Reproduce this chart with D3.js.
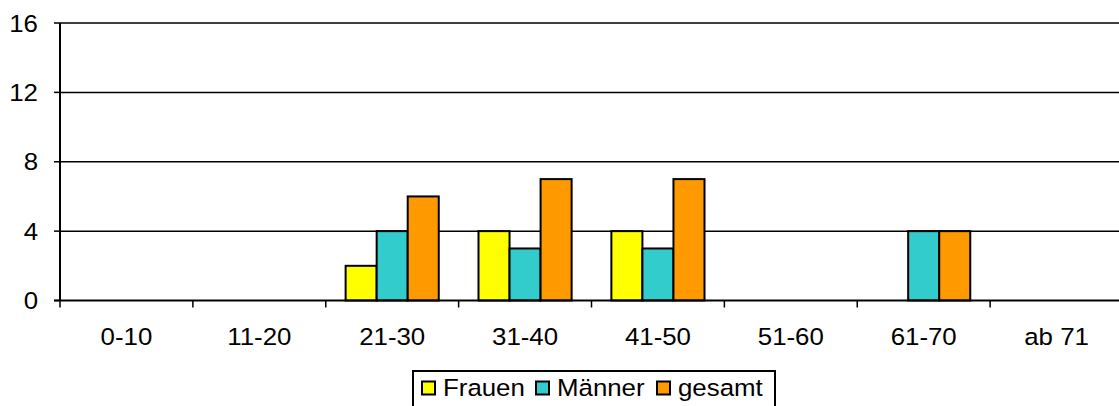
<!DOCTYPE html>
<html>
<head>
<meta charset="utf-8">
<script src="https://cdn.jsdelivr.net/npm/d3@7"></script>
<style>
  html, body { margin: 0; padding: 0; background: #fff; }
  svg { display: block; font-family: "Liberation Sans", Arial, sans-serif; }
</style>
</head>
<body>
<svg id="chart" width="1119" height="406"></svg>
<script>
// Age groups and counts per group
const categories = ["0-10", "11-20", "21-30", "31-40", "41-50", "51-60", "61-70", "ab 71"];
const seriesNames = ["Frauen", "Männer", "gesamt"];
const frauen = [0, 0, 2, 4, 4, 0, 0, 0];
const maenner = [0, 0, 4, 3, 3, 0, 4, 0];
const gesamt = [0, 0, 6, 7, 7, 0, 4, 0];
const yTicks = [0, 4, 8, 12, 16];
const colors = ["#FFFF00", "#33CCCC", "#FF9900"];

const seriesValues = [frauen, maenner, gesamt];

const svg = d3.select("#chart");
const mLeft = 60, mTop = 23, plotW = 1063, plotH = 277.5;
const FS = 23.5, SX = 1.1; // font size and horizontal stretch of all labels

const x = d3.scaleBand().domain(categories).range([mLeft, mLeft + plotW]).paddingInner(0).paddingOuter(0);
const y = d3.scaleLinear().domain([0, 16]).range([mTop + plotH, mTop]);
const inner = d3.scaleBand().domain(seriesNames).range([0, x.bandwidth()]).paddingInner(0).paddingOuter(0.64);

// stretched text helper
function label(g, px, py, txt, anchor) {
  return g.append("text")
    .attr("transform", `translate(${px},${py}) scale(${SX},1)`)
    .attr("text-anchor", anchor || "start")
    .attr("font-size", FS).attr("fill", "#000")
    .text(txt);
}

// horizontal gridlines
svg.append("g").selectAll("line").data(yTicks.filter(d => d > 0)).join("line")
  .attr("x1", mLeft).attr("x2", mLeft + plotW)
  .attr("y1", d => y(d)).attr("y2", d => y(d))
  .attr("stroke", "#000").attr("stroke-width", 1.5);

// bars
const groups = svg.append("g").selectAll("g").data(categories).join("g")
  .attr("transform", d => `translate(${x(d)},0)`);
groups.selectAll("rect")
  .data((c, i) => seriesNames.map((s, j) => ({ s, j, v: seriesValues[j][i] })).filter(d => d.v > 0))
  .join("rect")
  .attr("x", d => inner(d.s))
  .attr("width", inner.bandwidth())
  .attr("y", d => y(d.v))
  .attr("height", d => y(0) - y(d.v))
  .attr("fill", d => colors[d.j])
  .attr("stroke", "#000").attr("stroke-width", 2);

// y axis: line, ticks, labels
const gy = svg.append("g").attr("transform", `translate(${mLeft},0)`);
gy.append("line").attr("y1", mTop).attr("y2", mTop + plotH)
  .attr("stroke", "#000").attr("stroke-width", 2);
gy.selectAll("line.tk").data(yTicks).join("line").attr("class", "tk")
  .attr("x1", -6).attr("x2", 0).attr("y1", d => y(d)).attr("y2", d => y(d))
  .attr("stroke", "#000").attr("stroke-width", 1.5);
yTicks.forEach(t => label(gy, -22, y(t) + 8.5, d3.format("d")(t), "end"));

// x axis with ticks between groups
const gx = svg.append("g").attr("transform", `translate(0,${y(0)})`);
gx.append("line").attr("x1", mLeft - 6).attr("x2", mLeft + plotW)
  .attr("stroke", "#000").attr("stroke-width", 2);
gx.selectAll("line.tk").data(categories).join("line").attr("class", "tk")
  .attr("x1", d => x(d)).attr("x2", d => x(d)).attr("y1", 0).attr("y2", 7)
  .attr("stroke", "#000").attr("stroke-width", 1.5);
categories.forEach(c => label(gx, x(c) + x.bandwidth() / 2, 44.5, c, "middle"));

// legend
const lg = svg.append("g").attr("transform", "translate(413,371)");
lg.append("rect").attr("x", 0).attr("y", 0).attr("width", 362).attr("height", 45)
  .attr("fill", "#fff").attr("stroke", "#000").attr("stroke-width", 2);
const itemX = [9, 123, 244];
seriesNames.forEach((s, j) => {
  lg.append("rect").attr("x", itemX[j]).attr("y", 10.5).attr("width", 13).attr("height", 13)
    .attr("fill", colors[j]).attr("stroke", "#000").attr("stroke-width", 2);
  label(lg, itemX[j] + 21, 25, s, "start");
});
</script>
</body>
</html>
